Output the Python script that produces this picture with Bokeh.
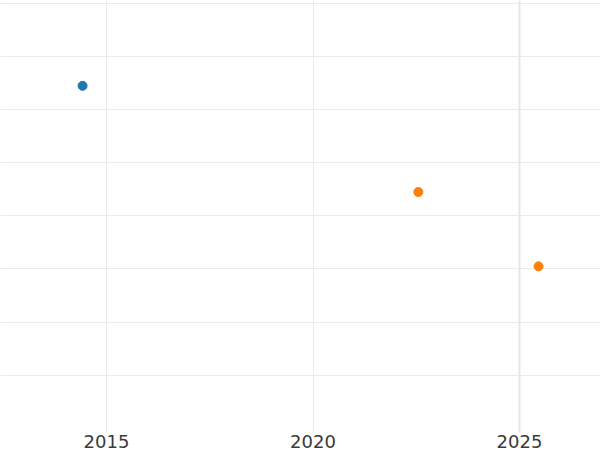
from bokeh.plotting import figure
from bokeh.models import ColumnDataSource, FixedTicker, Range1d, Span
from bokeh.embed import file_html
from bokeh.resources import INLINE

# Data
series_a_x = [2014.42]
series_a_y = [5.45]
series_b_x = [2022.55, 2025.46]
series_b_y = [3.45, 2.05]
x_ticks = [2015, 2020, 2025]
y_grid = [0, 1, 2, 3, 4, 5, 6, 7]
highlight_year = 2025

p = figure(width=600, height=450, output_backend="svg", toolbar_location=None,
           min_border_left=0, min_border_right=0, min_border_top=0, min_border_bottom=0,
           x_range=Range1d(2012.433, 2026.961), y_range=Range1d(-1.08, 7.057))

p.outline_line_color = None
p.background_fill_color = "white"
p.border_fill_color = "white"

p.yaxis.visible = False
p.xaxis.ticker = FixedTicker(ticks=x_ticks)
p.xaxis.axis_line_color = None
p.xaxis.major_tick_line_color = None
p.xaxis.minor_tick_line_color = None
p.xaxis.major_tick_out = 0
p.xaxis.major_tick_in = 0
p.xaxis.minor_tick_out = 0
p.xaxis.minor_tick_in = 0
p.xaxis.major_label_text_font = "DejaVu Sans"
p.xaxis.major_label_text_font_size = "18px"
p.xaxis.major_label_text_color = "#3a3a3a"
p.xaxis.major_label_standoff = 2

p.xgrid.ticker = FixedTicker(ticks=x_ticks)
p.ygrid.ticker = FixedTicker(ticks=y_grid)
p.xgrid.grid_line_color = "#ebebeb"
p.ygrid.grid_line_color = "#ebebeb"

p.add_layout(Span(location=highlight_year, dimension="height",
                  line_color="#e6e6e6", line_width=2))

src_a = ColumnDataSource(dict(x=series_a_x, y=series_a_y))
src_b = ColumnDataSource(dict(x=series_b_x, y=series_b_y))
p.scatter("x", "y", source=src_a, size=9, color="#1f77b4")
p.scatter("x", "y", source=src_b, size=9, color="#ff7f0e")

open("out.html", "w").write(file_html(p, INLINE))
